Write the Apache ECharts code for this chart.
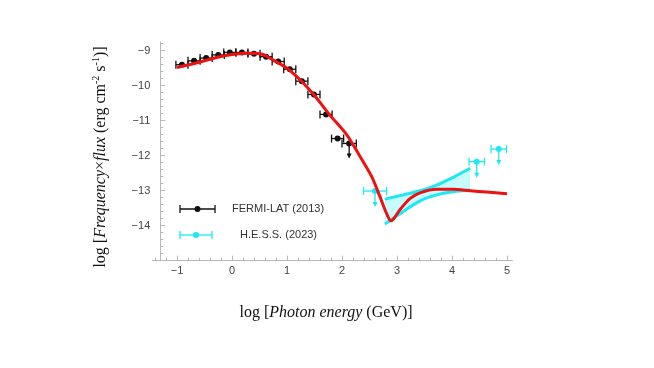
<!DOCTYPE html>
<html>
<head>
<meta charset="utf-8">
<script src="https://cdn.jsdelivr.net/npm/echarts@6/dist/echarts.min.js"></script>
<style>
	html, body { margin: 0; padding: 0; background: #fff; }
	#grafico { width: 654px; height: 368px; }
</style>
</head>
<body>
<div id="grafico"></div>
<script>
	// DADOS
	// FERMI-LAT (2013) - x, y, meia largura em x, limite superior (1) ou nao (0)
	var fermiX   = [-0.91, -0.69, -0.47, -0.25, -0.04, 0.18, 0.40, 0.62, 0.84, 1.05, 1.27, 1.49, 1.71, 1.92, 2.13];
	var fermiY   = [-9.40, -9.29, -9.21, -9.12, -9.05, -9.05, -9.09, -9.17, -9.31, -9.53, -9.87, -10.25, -10.82, -11.51, -11.65];
	var fermiErr = [0.11, 0.11, 0.11, 0.11, 0.11, 0.11, 0.11, 0.11, 0.11, 0.11, 0.11, 0.11, 0.11, 0.11, 0.13];
	var fermiLim = [0, 0, 0, 0, 0, 0, 0, 0, 0, 0, 0, 0, 0, 0, 1];

	// H.E.S.S. (2023) - todos sao limites superiores
	var hessX   = [2.60, 4.45, 4.85];
	var hessY   = [-13.01, -12.17, -11.81];
	var hessErr = [0.21, 0.14, 0.14];
	var hessLim = [1, 1, 1];

	// FAIXA (bow-tie) do H.E.S.S.
	var faixaX     = [2.78, 3.11, 3.42, 3.72, 4.02, 4.33];
	var faixaBaixo = [-13.95, -13.60, -13.29, -13.12, -13.03, -12.98];
	var faixaCima  = [-13.24, -13.12, -13.00, -12.84, -12.62, -12.36];

	// CURVA DO MODELO (vermelha)
	var modeloX = [-1.0, -0.6, -0.3, 0.0, 0.3, 0.55, 0.75, 1.0, 1.25, 1.5, 1.78, 2.09, 2.33, 2.54, 2.69, 2.81, 2.89, 2.95, 3.05, 3.24, 3.42, 3.72, 4.02, 4.33, 4.63, 5.0];
	var modeloY = [-9.48, -9.33, -9.20, -9.11, -9.07, -9.10, -9.27, -9.50, -9.85, -10.28, -10.84, -11.41, -12.03, -12.60, -13.17, -13.65, -13.86, -13.78, -13.55, -13.22, -13.06, -12.96, -12.96, -13.00, -13.04, -13.09];

	// TICKS DOS EIXOS
	var xTicks = [-1, 0, 1, 2, 3, 4, 5];
	var yTicks = [-14, -13, -12, -11, -10, -9];
	var xMenores = [-1.4, -1.2, -0.8, -0.6, -0.4, -0.2, 0.2, 0.4, 0.6, 0.8, 1.2, 1.4, 1.6, 1.8, 2.2, 2.4, 2.6, 2.8, 3.2, 3.4, 3.6, 3.8, 4.2, 4.4, 4.6, 4.8];
	var yMenores = [-14.8, -14.6, -14.4, -14.2, -13.8, -13.6, -13.4, -13.2, -12.8, -12.6, -12.4, -12.2, -11.8, -11.6, -11.4, -11.2, -10.8, -10.6, -10.4, -10.2, -9.8, -9.6, -9.4, -9.2, -8.8];

	var preto = '#111111';
	var ciano = '#1de9f6';
	var vermelho = '#ee1111';
	var corEixo = '#b8b8b8';

	var junta = function(){ // junta arrays em linhas
		var cols = arguments, out = [];
		for (var i = 0; i < cols[0].length; i++) {
			var linha = [];
			for (var j = 0; j < cols.length; j++) linha.push(cols[j][i]);
			out.push(linha);
		}
		return out;
	};

	var menos = function(v){ return (v < 0 ? '\u2212' : '') + Math.abs(v); };

	// desenha barra de erro horizontal + ponto + seta (limite)
	var barraErro = function(cor, seta){
		return function(params, api){
			var x = api.value(0), y = api.value(1), e = api.value(2), lim = api.value(3);
			var p = api.coord([x, y]);
			var l = api.coord([x - e, y]);
			var r = api.coord([x + e, y]);
			var estilo = { stroke: cor, lineWidth: 1.3 };
			var filhos = [
				{ type: 'line', shape: { x1: l[0], y1: l[1], x2: r[0], y2: r[1] }, style: estilo },
				{ type: 'line', shape: { x1: l[0], y1: l[1] - 4, x2: l[0], y2: l[1] + 4 }, style: estilo },
				{ type: 'line', shape: { x1: r[0], y1: r[1] - 4, x2: r[0], y2: r[1] + 4 }, style: estilo },
				{ type: 'circle', shape: { cx: p[0], cy: p[1], r: 3 }, style: { fill: cor } }
			];
			if (lim) {
				filhos.push({ type: 'line', shape: { x1: p[0], y1: p[1], x2: p[0], y2: p[1] + seta - 4 }, style: estilo });
				filhos.push({ type: 'polygon', shape: { points: [[p[0] - 2.5, p[1] + seta - 5], [p[0] + 2.5, p[1] + seta - 5], [p[0], p[1] + seta]] }, style: { fill: cor } });
			}
			return { type: 'group', children: filhos };
		};
	};

	// preenchimento da faixa entre as duas bordas
	var faixaPreench = function(params, api){
		var pts = [];
		for (var i = 0; i < faixaX.length; i++) pts.push(api.coord([faixaX[i], faixaCima[i]]));
		for (var k = faixaX.length - 1; k >= 0; k--) pts.push(api.coord([faixaX[k], faixaBaixo[k]]));
		return { type: 'polygon', shape: { points: pts }, style: { fill: '#c6fbff' } };
	};

	var fonteNum = 'Liberation Sans, Arial, sans-serif';
	var fonteSerif = 'Liberation Serif, Times New Roman, serif';

	var myChart = echarts.init(document.getElementById('grafico'));

	var option = {
		animation: false,
		grid: { left: 152.25, right: 141.5, top: 41.95, bottom: 107.3 },
		xAxis: [
			{
				type: 'value', min: -1.45, max: 5.1,
				axisLine: { onZero: false, lineStyle: { color: corEixo } },
				axisTick: { inside: true, length: 5, customValues: xTicks, lineStyle: { color: corEixo } },
				axisLabel: { customValues: xTicks, formatter: menos, color: '#444', fontSize: 11, fontFamily: fonteNum, margin: 5 },
				splitLine: { show: false }
			},
			{
				type: 'value', min: -1.45, max: 5.1, position: 'bottom',
				axisLine: { show: false, onZero: false },
				axisTick: { inside: true, length: 3, customValues: xMenores, lineStyle: { color: corEixo } },
				axisLabel: { show: false },
				splitLine: { show: false }
			}
		],
		yAxis: [
			{
				type: 'value', min: -15, max: -8.75, offset: -8,
				axisLine: { show: true, onZero: false, lineStyle: { color: corEixo } },
				axisTick: { show: true, inside: true, length: 5, customValues: yTicks, lineStyle: { color: corEixo } },
				axisLabel: { customValues: yTicks, formatter: menos, color: '#444', fontSize: 11, fontFamily: fonteNum, margin: 10 },
				splitLine: { show: false }
			},
			{
				type: 'value', min: -15, max: -8.75, offset: -8, position: 'left',
				axisLine: { show: false, onZero: false },
				axisTick: { show: true, inside: true, length: 3, customValues: yMenores, lineStyle: { color: corEixo } },
				axisLabel: { show: false },
				splitLine: { show: false }
			}
		],
		series: [
			{
				name: 'faixa', type: 'custom',
				renderItem: faixaPreench,
				data: [[faixaX[0], faixaBaixo[0]]], z: 1, silent: true
			},
			{
				name: 'faixa baixo', type: 'line', smooth: 0.3, symbol: 'none',
				data: junta(faixaX, faixaBaixo),
				lineStyle: { color: ciano, width: 3 }, z: 2
			},
			{
				name: 'faixa cima', type: 'line', smooth: 0.3, symbol: 'none',
				data: junta(faixaX, faixaCima),
				lineStyle: { color: ciano, width: 3 }, z: 2
			},
			{
				name: 'FERMI-LAT (2013)', type: 'custom',
				renderItem: barraErro(preto, 15),
				encode: { x: 0, y: 1 },
				data: junta(fermiX, fermiY, fermiErr, fermiLim), z: 3
			},
			{
				name: 'H.E.S.S. (2023)', type: 'custom',
				renderItem: barraErro(ciano, 16),
				encode: { x: 0, y: 1 },
				data: junta(hessX, hessY, hessErr, hessLim), z: 3
			},
			{
				name: 'modelo', type: 'line', smooth: 0.3, symbol: 'none',
				data: junta(modeloX, modeloY),
				lineStyle: { color: vermelho, width: 3 }, z: 4
			}
		],
		graphic: [
			// legenda
			{ type: 'line', shape: { x1: 180, y1: 209, x2: 215, y2: 209 }, style: { stroke: preto, lineWidth: 1.3 } },
			{ type: 'line', shape: { x1: 180, y1: 205, x2: 180, y2: 213 }, style: { stroke: preto, lineWidth: 1.3 } },
			{ type: 'line', shape: { x1: 215, y1: 205, x2: 215, y2: 213 }, style: { stroke: preto, lineWidth: 1.3 } },
			{ type: 'circle', shape: { cx: 197.5, cy: 209, r: 3 }, style: { fill: preto } },
			{ type: 'text', x: 232, y: 209, style: { text: 'FERMI-LAT (2013)', fill: '#333', font: '11px ' + fonteNum, verticalAlign: 'middle' } },
			{ type: 'line', shape: { x1: 180, y1: 235, x2: 212, y2: 235 }, style: { stroke: ciano, lineWidth: 1.3 } },
			{ type: 'line', shape: { x1: 180, y1: 231, x2: 180, y2: 239 }, style: { stroke: ciano, lineWidth: 1.3 } },
			{ type: 'line', shape: { x1: 212, y1: 231, x2: 212, y2: 239 }, style: { stroke: ciano, lineWidth: 1.3 } },
			{ type: 'circle', shape: { cx: 196, cy: 235, r: 3 }, style: { fill: ciano } },
			{ type: 'text', x: 240, y: 235, style: { text: 'H.E.S.S. (2023)', fill: '#333', font: '11px ' + fonteNum, verticalAlign: 'middle' } },
			// titulos dos eixos
			{
				type: 'text', x: 101, y: 157, rotation: Math.PI / 2,
				style: {
					text: '{n|log [}{i|Frequency}{n|\u00d7}{i|flux}{n| (erg cm}{s|-2}{n| s}{s|-1}{n|)]}',
					align: 'center', verticalAlign: 'middle',
					rich: {
						n: { fontFamily: fonteSerif, fontSize: 16, fill: '#111', lineHeight: 20 },
						i: { fontFamily: fonteSerif, fontSize: 16, fontStyle: 'italic', fill: '#111', lineHeight: 20 },
						s: { fontFamily: fonteSerif, fontSize: 10, fill: '#111', verticalAlign: 'top', lineHeight: 20 }
					}
				}
			},
			{
				type: 'text', x: 326, y: 313,
				style: {
					text: '{n|log [}{i|Photon energy}{n| (GeV)]}',
					align: 'center', verticalAlign: 'middle',
					rich: {
						n: { fontFamily: fonteSerif, fontSize: 16, fill: '#111' },
						i: { fontFamily: fonteSerif, fontSize: 16, fontStyle: 'italic', fill: '#111' }
					}
				}
			}
		]
	};
	// aplico as opcoes no chart
	myChart.setOption(option);
</script>
</body>
</html>
